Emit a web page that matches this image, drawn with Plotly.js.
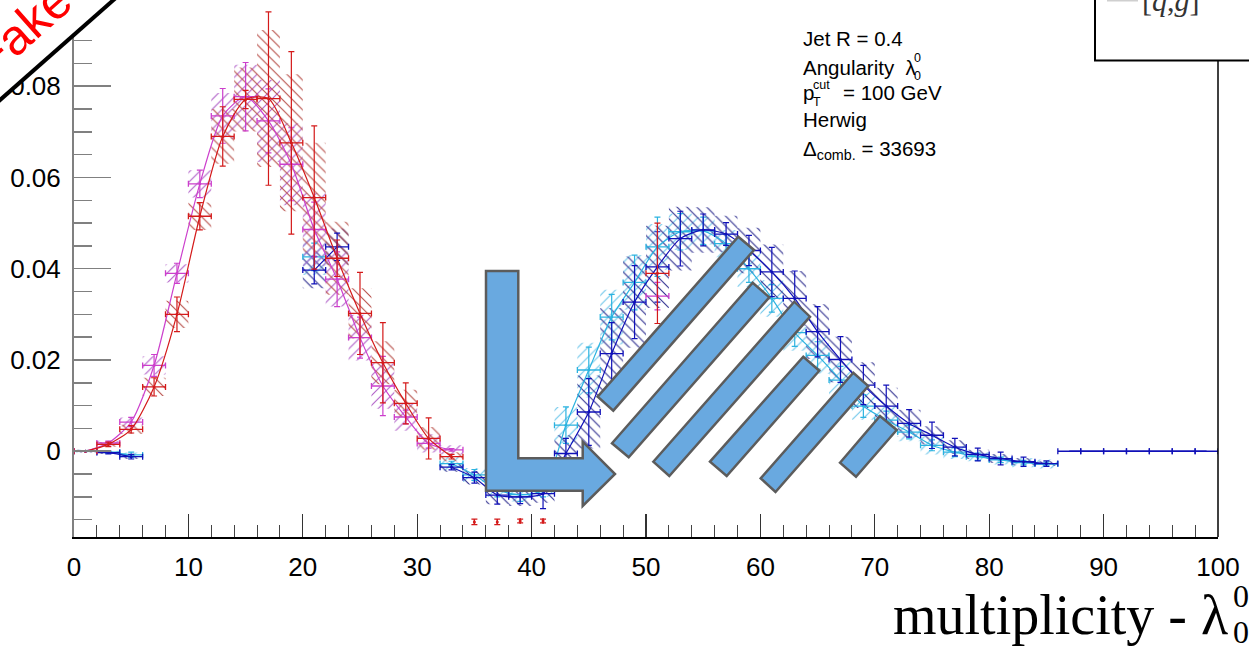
<!DOCTYPE html>
<html><head><meta charset="utf-8">
<script src="https://cdn.plot.ly/plotly-3.0.1.min.js"></script>
<style>html,body{margin:0;padding:0;background:#fff;} #chart{width:1249px;height:649px;}</style>
</head><body><div id="chart"></div>
<script>
// ---------- data ----------
// first distribution: bin centres (bin width 2)
const binsA = [1,3,5,7,9,11,13,15,17,19,21,23,25,27,29,31,33];
const redY   = [0,0.0015,0.0048,0.0141,0.0300,0.0515,0.0690,0.0771,0.0773,0.0676,0.0556,0.0423,0.0302,0.0194,0.0105,0.0028,-0.0012];
const redErr = [0,0.0005,0.0008,0.0020,0.0038,0.0030,0.0065,0.0020,0.0190,0.0200,0.0157,0.0040,0.0090,0.0088,0.0045,0.0045,0.0005];
const redSys = [0,0.0005,0.0010,0.0020,0.0030,0.0030,0.0060,0.0070,0.0150,0.0150,0.0120,0.0080,0.0055,0.0047,0.0030,0.0025,0.0010];
const magY   = [0,0.0018,0.0064,0.0188,0.0390,0.0586,0.0735,0.0777,0.0724,0.0629,0.0486,0.0377,0.0249,0.0143,0.0075,0.0017,0.0003];
const magErr = [0,0.0004,0.0010,0.0024,0.0022,0.0030,0.0060,0.0075,0.0070,0.0080,0.0060,0.0060,0.0045,0.0065,0.0015,0.0010,0.0003];
const magSys = [0,0.0005,0.0010,0.0020,0.0020,0.0030,0.0050,0.0070,0.0090,0.0090,0.0080,0.0060,0.0050,0.0050,0.0030,0.0020,0.0010];
// isolated fragments of the red / magenta series
const redFragX   = [35,37,39,41,51];
const redFragY   = [-0.0155,-0.0155,-0.0153,-0.0153,0.0390];
const redFragErr = [0.0006,0.0006,0.0004,0.0004,0.0110];
const magFragX   = [51];
const magFragY   = [0.0340];
const magFragErr = [0.0030];
// second distribution: bin centres 1..85
const binsB = [1,3,5,7,9,11,13,15,17,19,21,23,25,27,29,31,33,35,37,39,41,43,45,47,49,51,53,55,57,59,61,63,65,67,69,71,73,75,77,79,81,83,85];
const blueY = [0,-0.0003,-0.0012, null,null,null,null,null,null,null, 0.0397,0.0448, null,null,null,null,
  -0.0035,-0.0058,-0.0096,-0.0100,-0.0093,-0.0005,0.0086,0.0214,0.0327,0.0404,0.0466,0.0485,0.0476,0.0440,
  0.0393,0.0335,0.0262,0.0201,0.0145,0.0099,0.0061,0.0035,0.0009,-0.0007,-0.0016,-0.0023,-0.0027];
const blueErr = [0,0.0003,0.0005, null,null,null,null,null,null,null, 0.0030,0.0030, null,null,null,null,
  0.0006,0.0012,0.0020,0.0015,0.0033,0.0033,0.0073,0.0068,0.0080,0.0077,0.0060,0.0035,0.0025,0.0033,
  0.0054,0.0060,0.0055,0.0050,0.0043,0.0046,0.0030,0.0029,0.0019,0.0014,0.0014,0.0010,0.0006];
const blueSys = [0.0003,0.0003,0.0005, null,null,null,null,null,null,null, 0.0040,0.0040, null,null,null,null,
  0.0010,0.0015,0.0020,0.0020,0.0020,0.0040,0.0080,0.0100,0.0100,0.0090,0.0070,0.0050,0.0040,0.0050,
  0.0060,0.0060,0.0060,0.0050,0.0050,0.0040,0.0030,0.0020,0.0015,0.0010,0.0010,0.0008,0.0005];
const cyanY = [0,-0.0002,-0.0008, null,null,null,null,null,null,null, 0.0426,null, null,null,null,null,
  -0.0027,-0.0052,-0.0085,-0.0095,-0.0085,0.0057,0.0178,0.0294,0.0370,0.0448,0.0481,0.0483,0.0455,0.0400,
  0.0335,0.0260,0.0210,0.0156,0.0099,0.0068,0.0042,0.0013,-0.0002,-0.0012,-0.0019,-0.0025,-0.0028];
const cyanErr = [0,0.0003,0.0006, null,null,null,null,null,null,null, 0.0030,null, null,null,null,null,
  0.0005,0.0012,0.0015,0.0015,0.0015,0.0040,0.0050,0.0050,0.0060,0.0065,0.0040,0.0030,0.0020,0.0030,
  0.0030,0.0030,0.0030,0.0030,0.0025,0.0020,0.0015,0.0012,0.0010,0.0008,0.0006,0.0005,0.0004];
const cyanSys = [0.0003,0.0003,0.0005, null,null,null,null,null,null,null, 0.0040,null, null,null,null,null,
  0.0015,0.0015,0.0015,0.0015,0.0015,0.0040,0.0060,0.0060,0.0060,0.0050,0.0040,0.0030,0.0030,0.0040,
  0.0040,0.0040,0.0040,0.0040,0.0030,0.0030,0.0020,0.0020,0.0015,0.0010,0.0010,0.0010,0.0010];
// empty tail of the blue series
const flatX = [87,89,91,93,95,97,99];
const flatY = [0,0,0,0,0,0,0];
const xTicks = [0,10,20,30,40,50,60,70,80,90,100];
const yTicks = [0,0.02,0.04,0.06,0.08];
const yTickText = ['0','0.02','0.04','0.06','0.08'];
const halfBin = 1;

// ---------- styling helpers ----------
const L = 74, R = 1218, B = 537, T = 0;
const PX = x => (x - L) / (R - L);
const PY = y => (B - y) / (B - T);
const COL = {red:'#d41a1a', mag:'#cc3fcc', blue:'#1010b8', cyan:'#2bb3e0'};
const HATCH = {red:'#b8504a', mag:'#b060c8', blue:'#303090', cyan:'#6cc6ea'};

function band(xs, ys, ss, color, shape) {
  const bx = [], by = [];
  xs.forEach((c, i) => {
    if (ys[i] == null || ss[i] == null) return;
    const lo = ys[i] - ss[i], hi = ys[i] + ss[i];
    bx.push(c - halfBin, c + halfBin, c + halfBin, c - halfBin, c - halfBin, null);
    by.push(lo, lo, hi, hi, lo, null);
  });
  return {x: bx, y: by, type: 'scatter', mode: 'lines', fill: 'toself',
    line: {width: 0, color: 'rgba(0,0,0,0)'}, fillcolor: 'rgba(0,0,0,0)',
    fillpattern: {shape: shape, fgcolor: color, bgcolor: 'rgba(0,0,0,0)', size: 7, solidity: 0.16},
    hoverinfo: 'skip', showlegend: false};
}
function series(xs, ys, errs, color, withLine) {
  return {x: xs, y: ys, type: 'scatter', mode: withLine ? 'lines+markers' : 'markers',
    line: {color: color, width: 1.2, shape: 'spline', smoothing: 0.7},
    marker: {color: color, size: 3},
    error_y: {type: 'data', array: errs, color: color, thickness: 1.2, width: 3},
    error_x: {type: 'constant', value: halfBin, color: color, thickness: 1.3, width: 3},
    connectgaps: false, showlegend: false, hoverinfo: 'skip'};
}

const traces = [
  band(binsB, cyanY, cyanSys, HATCH.cyan, '/'),
  band(binsB, blueY, blueSys, HATCH.blue, '\\'),
  band(binsA, magY, magSys, HATCH.mag, '/'),
  band(binsA, redY, redSys, HATCH.red, '\\'),
  series(binsB, cyanY, cyanErr, COL.cyan, true),
  series(binsB, blueY, blueErr, COL.blue, true),
  {x: flatX, y: flatY, type: 'scatter', mode: 'lines', line: {color: COL.blue, width: 1.3},
   error_x: {type: 'constant', value: halfBin, color: COL.blue, thickness: 1.3, width: 3},
   showlegend: false, hoverinfo: 'skip'},
  series(binsA, magY, magErr, COL.mag, true),
  series(binsA, redY, redErr, COL.red, true),
  series(magFragX, magFragY, magFragErr, COL.mag, false),
  series(redFragX, redFragY, redFragErr, COL.red, false)
];
// red fragments at the bottom show no horizontal bar
traces[traces.length - 1].error_x = {type: 'data', array: [0,0,0,0,halfBin], color: COL.red, thickness: 1.3, width: 3};

function poly(pts) {
  return 'M ' + pts.map(p => PX(p[0]).toFixed(5) + ',' + PY(p[1]).toFixed(5)).join(' L ') + ' Z';
}
const arrowFill = '#69a9e0', arrowLine = '#5c5c5c';
const overlay = [
  [[486,271],[518.3,271],[518.3,458.3],[582.7,458.3],[582.7,441.7],[615,474],[582.7,506],[582.7,490.7],[486,490.7]],
  [[597.7,396.7],[738.3,236.7],[754,250],[613.3,410.7]],
  [[612,443.3],[752.7,282.7],[769.3,297.3],[628.7,457.3]],
  [[653.3,461.7],[794.3,301.7],[810,316.7],[669.3,476]],
  [[710,461.7],[803.3,356.7],[819.3,370.7],[726.7,476]],
  [[760.7,478.3],[853.3,372.7],[868.3,386],[775.5,492]],
  [[840,462.7],[880,416],[896.7,430],[856,476.7]]
];
const shapes = overlay.map(p => ({type: 'path', xref: 'paper', yref: 'paper', path: poly(p),
  fillcolor: arrowFill, line: {color: arrowLine, width: 2.5}, layer: 'above'}));
// right frame
shapes.push({type: 'line', xref: 'paper', yref: 'paper', x0: 1, x1: 1, y0: 0, y1: 1, line: {color: '#000', width: 1.5}, layer: 'above'});
// legend box (top right, cut by the edge)
shapes.push({type: 'rect', xref: 'paper', yref: 'paper', x0: PX(1095), x1: PX(1265), y0: PY(60.5), y1: PY(-10),
  fillcolor: '#fff', line: {color: '#000', width: 2}, layer: 'above'});
shapes.push({type: 'line', xref: 'paper', yref: 'paper', x0: PX(1107), x1: PX(1138), y0: PY(0), y1: PY(0),
  line: {color: '#cfcfcf', width: 3}, layer: 'above'});
// "fake" corner banner
shapes.push({type: 'path', xref: 'paper', yref: 'paper', path: poly([[-10,-10],[124,-10],[-10,109]]),
  fillcolor: '#fff', line: {width: 0}, layer: 'above'});
shapes.push({type: 'line', xref: 'paper', yref: 'paper', x0: PX(-4), y0: PY(103.5), x1: PX(118), y1: PY(-4),
  line: {color: '#000', width: 4}, layer: 'above'});

const sans = 'Liberation Sans, Arial, Helvetica, sans-serif';
const serif = 'Liberation Serif, Times New Roman, serif';
function ann(text, x, y, size, opts) {
  return Object.assign({text: text, xref: 'paper', yref: 'paper', x: PX(x), y: PY(y), showarrow: false,
    xanchor: 'left', yanchor: 'middle', font: {family: sans, size: size, color: '#000'}}, opts || {});
}
const annotations = [
  ann('Jet R = 0.4', 801, 38, 20.5),
  ann('Angularity  λ', 801, 67, 20.5),
  ann('0', 912, 58, 12.5), ann('0', 912, 76, 12.5),
  ann('p', 801, 92, 20.5),
  ann('cut', 811, 85, 12.5), ann('T', 811, 102, 12.5),
  ann('= 100 GeV', 841, 93, 20.5),
  ann('Herwig', 801, 120, 20.5),
  ann('Δ<sub>comb.</sub> = 33693', 801, 150, 20.5),
  ann('multiplicity - λ', 1230, 615, 56, {xanchor: 'right', font: {family: serif, size: 56, color: '#000'}}),
  ann('0', 1231, 596, 32, {font: {family: serif, size: 32, color: '#000'}}),
  ann('0', 1231, 632, 32, {font: {family: serif, size: 32, color: '#000'}}),
  ann('[<i>q</i>,<i>g</i>]', 1140, 0, 30, {font: {family: serif, size: 30, color: '#333'}}),
  ann('Fake', 22, 30, 50, {xanchor: 'center', textangle: -41.5, font: {family: sans, size: 50, color: '#ff0000'}})
];

const layout = {
  width: 1249, height: 649,
  margin: {l: L, r: 1249 - R, t: T, b: 649 - B, pad: 0},
  paper_bgcolor: '#fff', plot_bgcolor: '#fff',
  showlegend: false,
  xaxis: {range: [0, 100], tickvals: xTicks, ticks: 'inside', ticklen: 23, tickwidth: 1.2, tickcolor: '#333',
    minor: {dtick: 2, ticks: 'inside', ticklen: 12, tickwidth: 1, tickcolor: '#444', showgrid: false},
    showline: true, linecolor: '#000', linewidth: 1.5, showgrid: false, zeroline: false,
    tickfont: {family: sans, size: 26, color: '#000'}, ticklabelstandoff: 6},
  yaxis: {range: [-0.0188, 0.0989], tickvals: yTicks, ticktext: yTickText,
    ticks: 'inside', ticklen: 37, tickwidth: 1.5, tickcolor: '#808080',
    minor: {dtick: 0.005, tick0: 0, ticks: 'inside', ticklen: 18, tickwidth: 1.5, tickcolor: '#808080', showgrid: false},
    showline: true, linecolor: '#808080', linewidth: 2, showgrid: false, zeroline: false,
    tickfont: {family: sans, size: 26, color: '#000'}, ticklabelstandoff: 6},
  shapes: shapes,
  annotations: annotations
};
Plotly.newPlot('chart', traces, layout, {staticPlot: true, displayModeBar: false});
</script></body></html>
